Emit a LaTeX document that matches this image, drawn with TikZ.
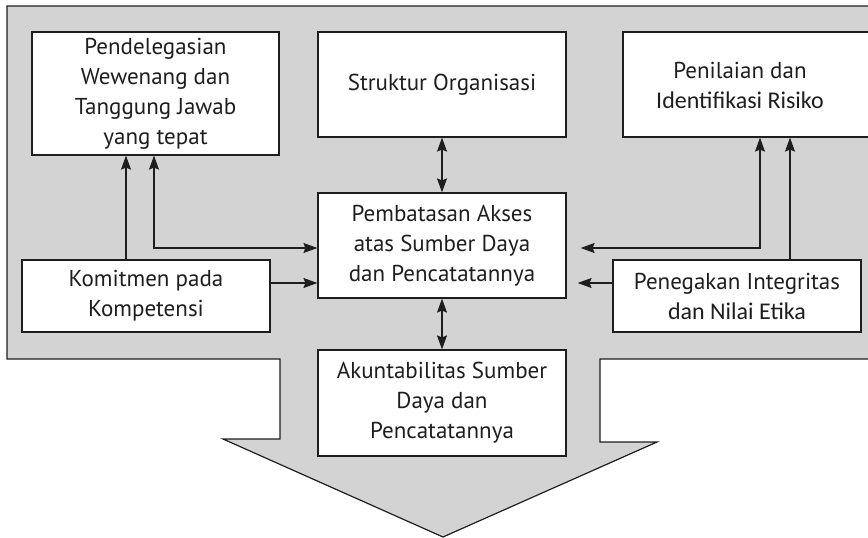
\documentclass[tikz,border=0pt]{standalone}
\usepackage{fontspec}
\setmainfont{PT Sans}
\newfontfamily\calib{Carlito}
\usetikzlibrary{arrows.meta}
\definecolor{ink}{HTML}{1E1E1E}
\definecolor{bggray}{HTML}{D3D3D3}
\tikzset{
  boxnode/.style={draw=ink, line width=1.2pt, fill=white, inner sep=0pt, align=center, text=ink,
    font=\fontsize{23}{30}\selectfont},
  txt/.style={align=center, text=ink, inner sep=0pt, font=\fontsize{23}{30}\selectfont},
  conn/.style={draw=ink, line width=1.2pt, arrows={-Stealth[length=14pt,width=10pt,inset=2pt]}},
  conn2/.style={draw=ink, line width=1.2pt, arrows={Stealth[length=14pt,width=10pt,inset=2pt]-Stealth[length=14pt,width=10pt,inset=2pt]}}
}
\begin{document}
\begin{tikzpicture}[x=1pt,y=-1pt]
\useasboundingbox (0,0) rectangle (868,538);
\clip (0,0) rectangle (868,538);
% gray background with arrow
\path[fill=bggray, draw=ink, line width=1.2pt]
  (7,6) -- (890,6) -- (890,359) -- (600,359) -- (600,442) -- (657,442) -- (443,537)
  -- (223,439) -- (280,439) -- (280,359) -- (7,359) -- cycle;
% boxes
\node[boxnode, minimum width=247pt, minimum height=123pt] (b1) at (155.5,93.5)
  {Pendelegasian\\Wewenang dan\\Tanggung Jawab\\yang tepat};
\node[boxnode, minimum width=248pt, minimum height=105pt] (b2) at (442,84.5)
  {Struktur Organisasi};
\node[boxnode, minimum width=257pt, minimum height=105pt] (b3) at (751.5,84.5) {};
\node[txt] (b3t) at (740,85) {Penilaian dan\\{\calib\fontsize{24}{30}\selectfont Identifikasi Risiko}};
\node[boxnode, minimum width=248pt, minimum height=105pt] (c) at (442,245.5)
  {Pembatasan Akses\\atas Sumber Daya\\dan Pencatatannya};
\node[boxnode, minimum width=248pt, minimum height=72pt] (k) at (146,296)
  {Komitmen pada\\Kompetensi};
\node[boxnode, minimum width=248pt, minimum height=72pt] (p) at (737,296)
  {Penegakan Integritas\\{\calib\fontsize{24}{30}\selectfont dan Nilai Etika}};
\node[boxnode, minimum width=248pt, minimum height=106pt] (a) at (442,403)
  {Akuntabilitas Sumber\\Daya dan\\Pencatatannya};
% connectors
\draw[conn] (k.north -| 126,0) -- (b1.south -| 126,0);
\draw[conn2] (b1.south -| 154,0) |- (c.west |- 0,248);
\draw[conn] (k.east |- 0,283) -- (c.west |- 0,283);
\draw[conn2] (b2.south) -- (c.north);
\draw[conn2] (c.south) -- (a.north);
\draw[conn2, shorten >=14pt] (b3.south -| 760,0) |- (c.east |- 0,248);
\draw[conn, shorten >=11pt] (p.west |- 0,283) -- (c.east |- 0,283);
\draw[conn] (p.north -| 790,0) -- (b3.south -| 790,0);
\end{tikzpicture}
\end{document}
